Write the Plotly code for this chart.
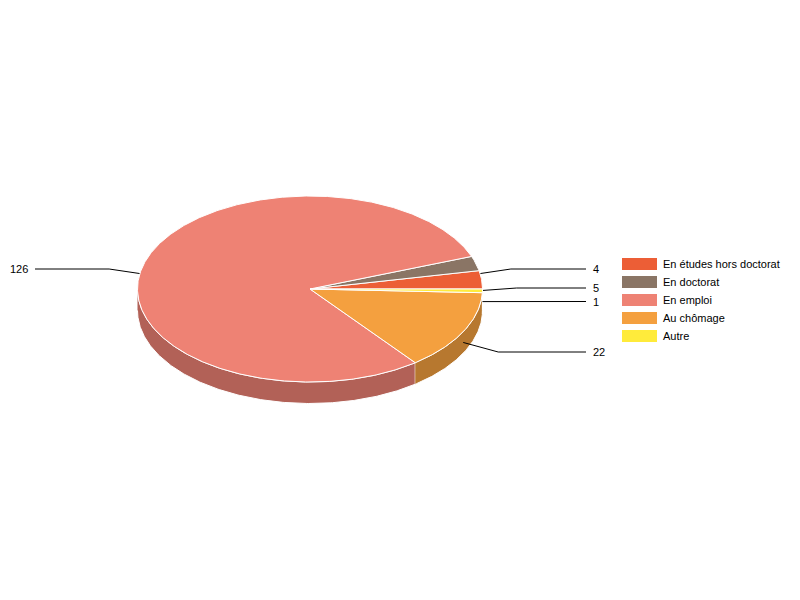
import numpy as np
import plotly.graph_objects as go

categories = ['En études hors doctorat', 'En doctorat', 'En emploi', 'Au chômage', 'Autre']
values = [5, 4, 126, 22, 1]
colors = ['#EC5E36', '#8A7565', '#EE8274', '#F4A03F', '#FFEB3B']
side_colors = ['#B14729', '#68584C', '#B26157', '#B7782F', '#BFB02C']

# pie geometry, in page pixels
cx, cy = 310, 289
rx, ry = 172.5, 93
depth = 21.5

# y of each value label, and where the leader lines stop
label_y = [288, 269, 269, 352, 301.5]
right_end, left_end = 586, 35

# legend block
legend_x, legend_y, legend_step = 622, 264, 18


def arc(a0, a1):
    t = np.radians(np.linspace(a0, a1, max(int(abs(a1 - a0) * 2), 2)))
    return cx + rx * np.cos(t), cy - ry * np.sin(t)


edges = np.concatenate([[0], np.cumsum(values)]) / sum(values) * 360
fig = go.Figure()

# front wall first
for i in range(len(values)):
    a0, a1 = max(edges[i], 180), edges[i + 1]
    if a1 <= a0:
        continue
    x, y = arc(a0, a1)
    fig.add_trace(go.Scatter(x=np.concatenate([x, x[::-1]]), y=np.concatenate([y, y[::-1] + depth]),
                             mode='lines', fill='toself', fillcolor=side_colors[i],
                             line=dict(color='white', width=1), showlegend=False, hoverinfo='skip'))

# leader lines sit under the top face
annotations = []
for i in range(len(values)):
    mid = np.radians((edges[i] + edges[i + 1]) / 2)
    sx = cx + rx * np.cos(mid)
    sy = cy - ry * np.sin(mid) + depth / 2
    right = np.cos(mid) > 0
    ex = sx + 35 if right else sx - 35
    fig.add_trace(go.Scatter(x=[sx, ex, right_end if right else left_end], y=[sy, label_y[i], label_y[i]],
                             mode='lines', line=dict(color='black', width=1), showlegend=False, hoverinfo='skip'))
    annotations.append(dict(x=591 if right else 30, y=label_y[i], text=str(values[i]), showarrow=False,
                            xanchor='left' if right else 'right', yanchor='middle', xref='x', yref='y'))

# top face
for i in range(len(values)):
    x, y = arc(edges[i], edges[i + 1])
    fig.add_trace(go.Scatter(x=np.concatenate([[cx], x, [cx]]), y=np.concatenate([[cy], y, [cy]]),
                             mode='lines', fill='toself', fillcolor=colors[i],
                             line=dict(color='white', width=1), showlegend=False, hoverinfo='skip'))

# legend, drawn by hand because plotly's rows are too tall and its swatches too thin
shapes = []
for i, name in enumerate(categories):
    row = legend_y + i * legend_step
    shapes.append(dict(type='rect', xref='x', yref='y', x0=legend_x, x1=legend_x + 35, y0=row - 6, y1=row + 6,
                       fillcolor=colors[i], line=dict(width=0)))
    annotations.append(dict(x=legend_x + 39, y=row, text=name, showarrow=False,
                            xanchor='left', yanchor='middle', xref='x', yref='y'))

# the page has an 8px body margin, so the figure starts at 8,8
fig.update_layout(
    width=792, height=592,
    margin=dict(l=0, r=0, t=0, b=0),
    paper_bgcolor='white', plot_bgcolor='white',
    font=dict(family='Liberation Sans, Arial, sans-serif', size=11, color='black'),
    xaxis=dict(range=[8, 800], visible=False, fixedrange=True),
    yaxis=dict(range=[600, 8], visible=False, fixedrange=True),
    showlegend=False,
    shapes=shapes,
    annotations=annotations,
)

fig.write_html("out.html")
